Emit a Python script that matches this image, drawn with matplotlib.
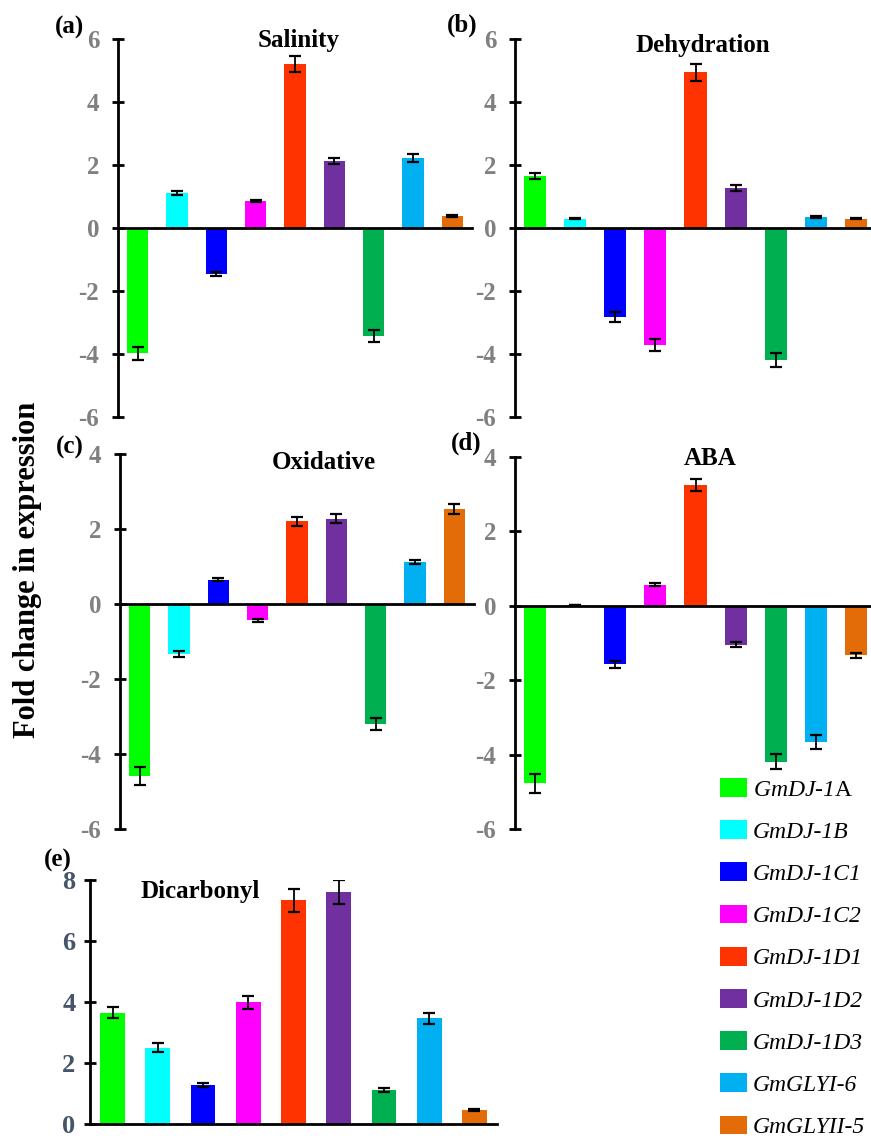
import matplotlib
matplotlib.use('Agg')
import matplotlib.pyplot as plt
from matplotlib.patches import Patch
import numpy as np

# Genes (legend order) and bar colours
genes = ['GmDJ-1$\\mathrm{A}$', 'GmDJ-1B', 'GmDJ-1C1', 'GmDJ-1C2', 'GmDJ-1D1',
         'GmDJ-1D2', 'GmDJ-1D3', 'GmGLYI-6', 'GmGLYII-5']
colors = ['#00FF00', '#00FFFF', '#0000FF', '#FF00FF', '#FF3300',
          '#7030A0', '#00B050', '#00B0F0', '#E36C09']

# Fold change values, with error bars
salinity = [-3.98, 1.11, -1.45, 0.86, 5.21, 2.12, -3.44, 2.22, 0.37]
salinity_err = [0.2, 0.06, 0.06, 0.04, 0.26, 0.1, 0.19, 0.12, 0.03]

dehydration = [1.66, 0.30, -2.83, -3.72, 4.94, 1.27, -4.18, 0.36, 0.30]
dehydration_err = [0.1, 0.03, 0.15, 0.19, 0.26, 0.08, 0.22, 0.03, 0.03]

oxidative = [-4.59, -1.33, 0.64, -0.44, 2.20, 2.27, -3.20, 1.12, 2.54]
oxidative_err = [0.24, 0.08, 0.04, 0.03, 0.12, 0.12, 0.16, 0.06, 0.13]

aba = [-4.77, 0.02, -1.57, 0.57, 3.25, -1.05, -4.19, -3.66, -1.33]
aba_err = [0.25, 0.005, 0.09, 0.03, 0.17, 0.07, 0.21, 0.19, 0.07]

dicarbonyl = [3.65, 2.50, 1.28, 3.99, 7.33, 7.60, 1.11, 3.46, 0.46]
dicarbonyl_err = [0.19, 0.14, 0.08, 0.21, 0.37, 0.39, 0.07, 0.18, 0.03]

plt.rcParams['font.family'] = ['Liberation Serif', 'DejaVu Serif']
plt.rcParams['mathtext.fontset'] = 'custom'
plt.rcParams['mathtext.rm'] = 'Liberation Serif'
plt.rcParams['axes.unicode_minus'] = False

W, H = 871, 1143
fig = plt.figure(figsize=(W / 100, H / 100), dpi=100)


def px_axes(x0, x1, ytop, ybot):
    """Cria eixos a partir de coordenadas em pixels."""
    return fig.add_axes([x0 / W, 1 - ybot / H, (x1 - x0) / W, (ybot - ytop) / H])


def draw_panel(ax, values, errs, ylim, yticks, title, title_pos, tick_color, pad, lsize=18):
    x = np.arange(len(values))
    ax.bar(x, values, width=0.55, color=colors, zorder=2)
    ax.errorbar(x, values, yerr=errs, fmt='none', ecolor='black',
                elinewidth=1.3, capsize=4, capthick=1.6, zorder=3)
    ax.set_xlim(-0.5, 8.5)
    ax.set_ylim(*ylim)
    ax.set_yticks(yticks)
    ax.set_xticks([])
    for s in ['top', 'right']:
        ax.spines[s].set_visible(False)
    ax.spines['bottom'].set_position(('data', 0))
    ax.spines['left'].set_linewidth(2)
    ax.spines['bottom'].set_linewidth(2)
    ax.tick_params(axis='y', direction='inout', length=9, width=2, pad=pad,
                   labelsize=lsize, labelcolor=tick_color)
    for lab in ax.get_yticklabels():
        lab.set_fontweight('bold')
    ax.patch.set_visible(False)
    ax.text(title_pos[0], title_pos[1], title, transform=ax.transAxes,
            ha='center', va='center', fontsize=18, fontweight='bold')


gray = '#808080'
ax_a = px_axes(118, 472, 39, 417)
draw_panel(ax_a, salinity, salinity_err, (-6, 6), range(-6, 7, 2),
           'Salinity', (0.51, 0.995), gray, 9)

ax_b = px_axes(515, 876, 39, 417)
draw_panel(ax_b, dehydration, dehydration_err, (-6, 6), range(-6, 7, 2),
           'Dehydration', (0.52, 0.984), gray, 9)

ax_c = px_axes(120, 474, 454, 829)
draw_panel(ax_c, oxidative, oxidative_err, (-6, 4), range(-6, 5, 2),
           'Oxidative', (0.575, 0.976), gray, 9)

ax_d = px_axes(515, 876, 457, 829)
draw_panel(ax_d, aba, aba_err, (-6, 4), range(-6, 5, 2),
           'ABA', (0.54, 0.997), gray, 9)

ax_e = px_axes(90, 497, 880, 1124)
draw_panel(ax_e, dicarbonyl, dicarbonyl_err, (0, 8), range(0, 9, 2),
           'Dicarbonyl', (0.27, 0.951), '#44546A', 6, lsize=19)

# Rotulos dos paineis
for lab, (px, py) in zip(['(a)', '(b)', '(c)', '(d)', '(e)'],
                         [(69, 27), (462, 25), (70, 447), (466, 443), (58, 860)]):
    fig.text(px / W, 1 - py / H, lab, ha='center', va='center',
             fontsize=18, fontweight='bold')

fig.text(28 / W, 1 - 570 / H, 'Fold change in expression', rotation=90,
         ha='center', va='center', fontsize=22, fontweight='bold')

# Legenda
handles = [Patch(facecolor=c, edgecolor='none') for c in colors]
leg = fig.legend(handles, genes, loc='upper left',
                 bbox_to_anchor=(720 / W, 1 - 778 / H), frameon=False,
                 borderpad=0, borderaxespad=0, handlelength=1.15,
                 handleheight=0.85, handletextpad=0.25, labelspacing=0.83,
                 prop={'size': 17, 'style': 'italic'})

plt.savefig('out.png', dpi=100, facecolor='white')
